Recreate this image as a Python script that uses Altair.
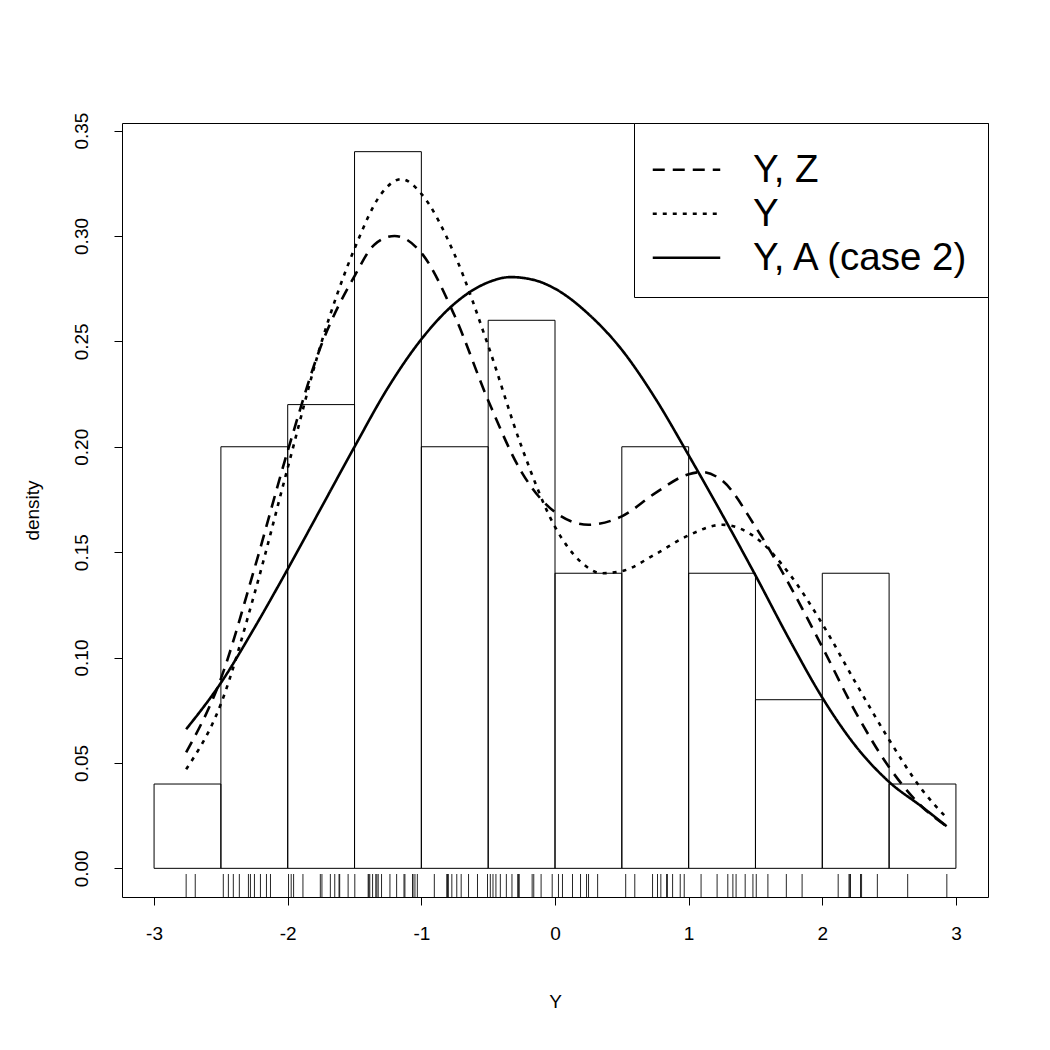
import altair as alt
import pandas as pd

FONT = "Liberation Sans"

# Histogram (density scale, bin width 0.5)
bin_left = [-3.0, -2.5, -2.0, -1.5, -1.0, -0.5, 0.0, 0.5, 1.0, 1.5, 2.0, 2.5]
bin_right = [-2.5, -2.0, -1.5, -1.0, -0.5, 0.0, 0.5, 1.0, 1.5, 2.0, 2.5, 3.0]
bin_density = [0.04, 0.20, 0.22, 0.34, 0.20, 0.26, 0.14, 0.20, 0.14, 0.08, 0.14, 0.04]

# Rug of observations
rug_values = [
    -2.760, -2.692,
    -2.482, -2.444, -2.407, -2.362, -2.294, -2.279, -2.249, -2.204, -2.159, -2.129,
    -1.994, -1.974, -1.956, -1.886, -1.756, -1.744, -1.681, -1.648, -1.616, -1.611, -1.548,
    -1.498, -1.398, -1.393, -1.386, -1.365, -1.341, -1.333, -1.323, -1.298, -1.235, -1.185,
    -1.130, -1.123, -1.065, -1.063, -1.048, -1.030,
    -0.903, -0.810, -0.804, -0.798, -0.772, -0.735, -0.702, -0.647, -0.580, -0.505,
    -0.484, -0.464, -0.442, -0.409, -0.364, -0.322, -0.279, -0.272, -0.268, -0.171, -0.159, -0.104, -0.021,
    0.026, 0.056, 0.131, 0.191, 0.236, 0.251, 0.319,
    0.529, 0.597, 0.730, 0.767, 0.792, 0.835, 0.841, 0.880, 0.937, 0.967,
    1.093, 1.213, 1.293, 1.331, 1.355, 1.423, 1.481,
    1.506, 1.593, 1.731, 1.849,
    2.119, 2.200, 2.206, 2.211, 2.286, 2.294, 2.412,
    2.639, 2.932,
]

series_names = ["Y, Z", "Y", "Y, A (case 2)"]

yz_x = [-2.76, -2.5, -2.25, -2.0, -1.75, -1.5, -1.35, -1.2, -1.0, -0.75, -0.5, -0.25, 0.0,
        0.25, 0.5, 0.75, 1.0, 1.1, 1.25, 1.5, 1.75, 2.0, 2.25, 2.5, 2.75, 2.93]
yz_d = [0.055, 0.090, 0.142, 0.198, 0.248, 0.281, 0.296, 0.300, 0.292, 0.262, 0.222, 0.188, 0.169,
        0.163, 0.167, 0.178, 0.187, 0.188, 0.184, 0.162, 0.135, 0.105, 0.074, 0.048, 0.029, 0.020]

y_x = [-2.76, -2.5, -2.25, -2.0, -1.75, -1.5, -1.3, -1.15, -1.0, -0.75, -0.5, -0.25, 0.0,
       0.2, 0.35, 0.5, 0.75, 1.0, 1.25, 1.5, 1.75, 2.0, 2.25, 2.5, 2.75, 2.93]
y_d = [0.047, 0.078, 0.130, 0.190, 0.249, 0.294, 0.320, 0.327, 0.320, 0.291, 0.248, 0.200, 0.162,
       0.145, 0.140, 0.141, 0.149, 0.158, 0.163, 0.157, 0.140, 0.116, 0.088, 0.061, 0.037, 0.024]

ya_x = [-2.76, -2.5, -2.25, -2.0, -1.75, -1.5, -1.25, -1.0, -0.75, -0.5, -0.33, -0.15, 0.0,
        0.25, 0.5, 0.75, 1.0, 1.25, 1.5, 1.75, 2.0, 2.25, 2.5, 2.75, 2.93]
ya_d = [0.066, 0.088, 0.114, 0.142, 0.171, 0.200, 0.228, 0.251, 0.268, 0.278, 0.2805, 0.279, 0.275,
        0.263, 0.246, 0.223, 0.196, 0.168, 0.139, 0.109, 0.081, 0.058, 0.041, 0.029, 0.020]

hist_df = pd.DataFrame({"left": bin_left, "right": bin_right,
                        "density": bin_density, "base": [0.0] * len(bin_left)})
rug_df = pd.DataFrame({"v": rug_values})
curve_df = pd.concat([
    pd.DataFrame({"x": yz_x, "d": yz_d, "series": series_names[0]}),
    pd.DataFrame({"x": y_x, "d": y_d, "series": series_names[1]}),
    pd.DataFrame({"x": ya_x, "d": ya_d, "series": series_names[2]}),
], ignore_index=True)

W, H = 866, 774
xscale = alt.Scale(domain=[-3.24, 3.24], nice=False, zero=False)
yscale = alt.Scale(domain=[-0.0136, 0.3536], nice=False, zero=False)

x_axis = alt.Axis(values=[-3, -2, -1, 0, 1, 2, 3],
                  labelExpr="datum.value < 0 ? '-' + abs(datum.value) : '' + datum.value",
                  labelPadding=19, titlePadding=49, labelFlush=False)
y_axis = alt.Axis(values=[0, 0.05, 0.10, 0.15, 0.20, 0.25, 0.30, 0.35], format=".2f",
                  labelAngle=270, labelAlign="center", labelBaseline="bottom",
                  labelPadding=23, titlePadding=30, labelFlush=False)

hist = alt.Chart(hist_df).mark_rect(fillOpacity=0, stroke="black", strokeWidth=1).encode(
    x=alt.X("left:Q", scale=xscale, axis=x_axis, title="Y"),
    x2="right:Q",
    y=alt.Y("density:Q", scale=yscale, axis=y_axis, title="density"),
    y2="base:Q",
)

rug = alt.Chart(rug_df).mark_rule(color="black", strokeWidth=1, opacity=0.85).encode(
    x=alt.X("v:Q", scale=xscale),
    y=alt.value(H),
    y2=alt.value(H - 23),
)

curves = alt.Chart(curve_df).mark_line(color="black", strokeWidth=2.6, interpolate="monotone").encode(
    x=alt.X("x:Q", scale=xscale),
    y=alt.Y("d:Q", scale=yscale),
    strokeDash=alt.StrokeDash(
        "series:N",
        scale=alt.Scale(domain=series_names, range=[[12, 8], [4, 6], [1, 0]]),
        sort=series_names,
        legend=alt.Legend(title=" "),
    ),
)

chart = alt.layer(hist, rug, curves).properties(
    width=W, height=H,
    autosize=alt.AutoSizeParams(type="none"),
    padding={"left": 122, "top": 123, "right": 62, "bottom": 153},
    background="white",
).configure_view(
    stroke="black", strokeWidth=1
).configure_axis(
    domain=False, grid=False, ticks=True, tickColor="black", tickSize=8, tickWidth=1,
    labelFont=FONT, labelFontSize=19, labelColor="black",
    titleFont=FONT, titleFontSize=19, titleFontWeight="normal", titleColor="black",
    labelOverlap=False,
).configure_legend(
    orient="top-right", offset=0, padding=17,
    strokeColor="black", fillColor="white", cornerRadius=0,
    titleFontSize=6, titlePadding=2, titleFont=FONT,
    labelFont=FONT, labelFontSize=38.5, labelColor="black", labelOffset=31, labelLimit=500,
    symbolType="stroke", symbolSize=4556, symbolStrokeWidth=2.6, symbolStrokeColor="black",
    clipHeight=43.5, rowPadding=0,
)

chart.save("out.html", embed_options={"renderer": "svg", "actions": False})
